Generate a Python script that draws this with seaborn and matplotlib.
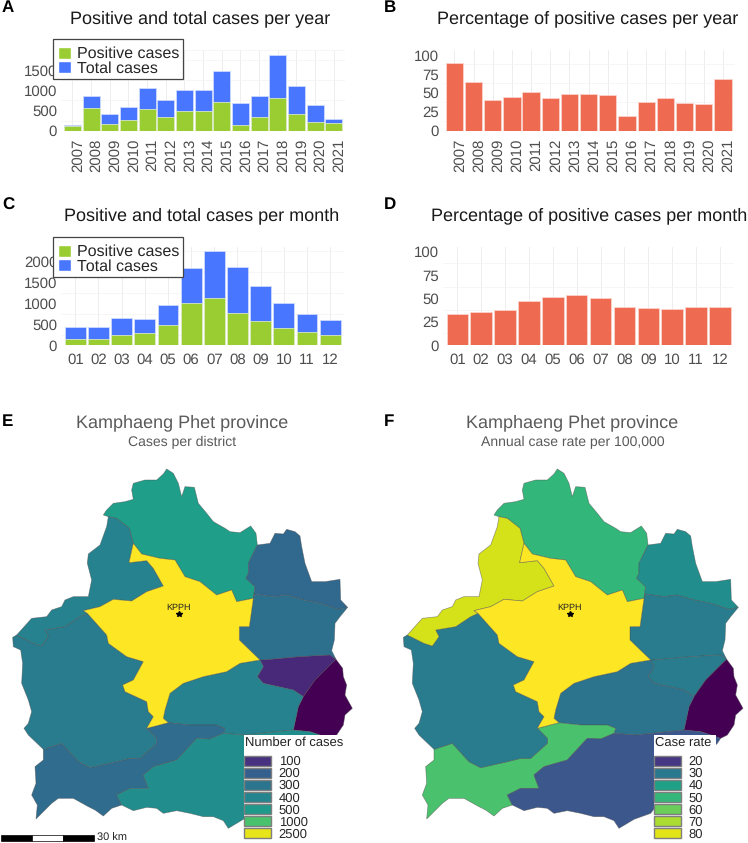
"""Dengue case bars and district maps for Kamphaeng Phet province."""

import matplotlib.pyplot as plt
import seaborn as sns
from matplotlib.patches import Patch, Polygon, Rectangle
from matplotlib.ticker import MultipleLocator
from matplotlib.transforms import ScaledTranslation

WIDTH, HEIGHT = 748, 843

years = ["2007", "2008", "2009", "2010", "2011", "2012", "2013", "2014",
         "2015", "2016", "2017", "2018", "2019", "2020", "2021"]
year_positive = [120, 560, 160, 260, 550, 330, 480, 480, 700, 130, 335, 810, 415, 225, 190]
year_total = [135, 865, 420, 575, 1070, 770, 1010, 1020, 1480, 680, 865, 1880, 1120, 640, 285]
year_percent = [90, 64, 40, 45, 51, 43, 48, 48, 47, 19, 38, 43, 37, 35, 68]

months = ["01", "02", "03", "04", "05", "06", "07", "08", "09", "10", "11", "12"]
month_positive = [145, 150, 245, 285, 490, 1000, 1130, 770, 570, 410, 315, 240]
month_total = [425, 430, 645, 615, 965, 1850, 2240, 1870, 1410, 1010, 750, 590]
month_percent = [33, 35, 38, 47, 51, 54, 50, 41, 40, 39, 41, 41]

# district borders in map units, shared so neighbouring polygons line up
yellow_north = [(400, 430), (425, 462), (480, 475), (525, 480), (555, 530), (600, 545),
                (650, 585), (695, 570), (710, 605), (760, 595)]
yellow_east = [(760, 595), (748, 680), (718, 680), (718, 720), (780, 780)]
yellow_se = [(780, 780), (720, 790), (680, 815), (610, 830), (550, 850), (510, 880),
             (495, 930), (490, 955), (505, 968)]
yellow_low = [(505, 968), (440, 985)]
yellow_sw = [(440, 985), (460, 950), (445, 935), (440, 905), (375, 875), (368, 855),
             (400, 840), (430, 785), (380, 770), (325, 730), (320, 705), (262, 640)]
yellow_nw = [(262, 640), (250, 632), (300, 620), (340, 598), (395, 603), (440, 575),
             (490, 558), (460, 505), (440, 482), (387, 488), (400, 430)]
north_nw = [(400, 430), (388, 385), (350, 355), (325, 350)]
north_outer = [(325, 350), (310, 345), (320, 330), (340, 310), (375, 305), (400, 298), (395, 270),
               (400, 250), (435, 240), (470, 240), (490, 222), (500, 207), (520, 220), (535, 250),
               (545, 290), (555, 260), (583, 262), (590, 290), (595, 310), (620, 340), (640, 365),
               (675, 385), (690, 395), (720, 398), (752, 378), (768, 400), (772, 435)]
north_east = [(772, 435), (745, 490), (745, 520), (738, 535), (765, 560), (760, 595)]
east_outer = [(772, 435), (810, 430), (825, 400), (850, 402), (860, 388), (885, 395), (900, 408),
              (905, 440), (915, 490), (935, 545), (975, 545), (1020, 538), (1022, 600), (1043, 622)]
east_border = [(760, 595), (765, 582), (820, 590), (860, 585), (910, 600), (960, 610),
               (1015, 628), (1043, 622)]
mid_outer = [(1043, 622), (1020, 650), (1005, 670), (1003, 720), (995, 752), (1008, 778)]
mid_purple = [(780, 780), (790, 780), (900, 770), (990, 765), (1008, 778)]
purple_dark = [(1008, 778), (995, 790), (945, 840), (910, 890)]
purple_central = [(780, 780), (790, 800), (772, 830), (790, 850), (880, 870), (910, 890)]
dark_outer = [(1008, 778), (1028, 805), (1030, 830), (1040, 855), (1035, 885), (1057, 925),
              (1035, 945), (1030, 975), (1010, 1005), (990, 1015)]
dark_south = [(990, 1015), (930, 995), (880, 990)]
dark_central = [(880, 990), (895, 920), (910, 890)]
central_low = [(505, 968), (570, 975), (650, 975), (675, 985), (670, 1000)]
central_south = [(670, 1000), (735, 1005), (880, 990)]
low_south = [(670, 1000), (630, 1017), (590, 1015), (530, 1080), (460, 1100), (430, 1125),
             (445, 1165), (390, 1165), (350, 1185), (365, 1215)]
low_outer = [(365, 1215), (335, 1225), (310, 1248), (285, 1230), (265, 1220), (220, 1195),
             (175, 1195), (155, 1210), (130, 1235), (108, 1257), (112, 1215), (95, 1185),
             (108, 1150), (105, 1100), (130, 1080), (130, 1048)]
low_sw = [(130, 1048), (185, 1030), (235, 1085), (270, 1103), (350, 1085), (390, 1075),
          (420, 1075), (470, 1030), (470, 1015), (440, 985)]
south_outer = [(365, 1215), (400, 1232), (440, 1222), (470, 1225), (490, 1240), (530, 1232),
               (570, 1240), (610, 1250), (640, 1250), (670, 1262), (685, 1285), (710, 1270),
               (730, 1258), (780, 1240), (850, 1150), (930, 1080), (980, 1030), (990, 1015)]
nw_sw = [(262, 640), (240, 650), (195, 680), (135, 690), (145, 710), (125, 738), (100, 730),
         (50, 705)]
nw_outer = [(325, 350), (320, 380), (300, 435), (265, 462), (262, 490), (275, 540), (265, 590),
            (220, 590), (195, 600), (185, 620), (155, 630), (140, 650), (95, 655), (50, 705)]
sw_outer = [(50, 705), (38, 712), (40, 740), (62, 750), (68, 790), (65, 850), (85, 900), (95, 935),
            (85, 970), (72, 985), (85, 1005), (130, 1048)]

districts = {
    "north": north_outer + north_east + yellow_north[::-1] + north_nw,
    "east": east_outer + east_border[::-1] + north_east[::-1],
    "mid": east_border + mid_outer + mid_purple[::-1] + yellow_east[::-1],
    "purple": mid_purple + purple_dark + purple_central[::-1],
    "dark": purple_dark[::-1] + dark_outer + dark_south + dark_central,
    "central": yellow_se + central_low + central_south + dark_central + purple_central[::-1],
    "low": yellow_low[::-1] + central_low + low_south + low_outer + low_sw,
    "south": low_south + south_outer + dark_south + central_south[::-1],
    "southwest": yellow_sw + nw_sw + sw_outer + low_sw,
    "northwest": yellow_nw + north_nw + nw_outer + nw_sw[::-1],
    "centre": yellow_north + yellow_east + yellow_se + yellow_low + yellow_sw + yellow_nw,
}

cases_colors = {"north": "#1F9E89", "east": "#31688E", "mid": "#2D708E", "purple": "#482878",
                "dark": "#440154", "central": "#26828E", "low": "#2F6C8E", "south": "#218E8D",
                "southwest": "#287C8E", "northwest": "#26828E", "centre": "#FDE725"}
rate_colors = {"north": "#32B67A", "east": "#218E8D", "mid": "#287C8E", "purple": "#287C8E",
               "dark": "#440154", "central": "#2C738E", "low": "#4AC16D", "south": "#3B578B",
               "southwest": "#287C8E", "northwest": "#D5E21A", "centre": "#FDE725"}

cases_breaks = ["100", "200", "300", "400", "500", "1000", "2500"]
cases_legend_colors = ["#46327E", "#35608D", "#2B758E", "#25858E", "#1F9A8A", "#4AC16D", "#E7E419"]
rate_breaks = ["20", "30", "40", "50", "60", "70", "80"]
rate_legend_colors = ["#453781", "#2A788E", "#1FA187", "#35B779", "#6CCD5A", "#ABDC32", "#E2E418"]

GREEN = "#9ACD32"
BLUE = "#4876FF"
CORAL = "#EE6A50"
TICK_GREY = "#4D4D4D"

sns.set_theme(style="whitegrid", rc={"grid.color": "#EDEDED", "grid.linewidth": 0.7})
plt.rcParams["font.family"] = ["Liberation Sans", "DejaVu Sans"]
plt.rcParams["text.hinting"] = "no_hinting"
plt.rcParams["text.hinting_factor"] = 1

fig = plt.figure(figsize=(WIDTH / 100, HEIGHT / 100), dpi=100, facecolor="white")


def px_axes(left, top, right, bottom):
    return fig.add_axes([left / WIDTH, 1 - bottom / HEIGHT,
                         (right - left) / WIDTH, (bottom - top) / HEIGHT])


def px_text(x, y, text, **kwargs):
    return fig.text(x / WIDTH, 1 - y / HEIGHT, text, va="center", **kwargs)


def px_box(left, top, right, bottom, **kwargs):
    box = Rectangle((left / WIDTH, 1 - bottom / HEIGHT), (right - left) / WIDTH, (bottom - top) / HEIGHT,
                    transform=fig.transFigure, zorder=9, **kwargs)
    fig.add_artist(box)


def style_bars(ax, ymax, yticks, minor, rotate):
    ax.set_ylim(0, ymax)
    ax.set_yticks(yticks)
    ax.yaxis.set_minor_locator(MultipleLocator(minor))
    ax.grid(which="major", axis="both")
    ax.grid(which="minor", axis="y", color="#F3F3F3", linewidth=0.5)
    ax.set_axisbelow(True)
    ax.set_xlabel("")
    ax.set_ylabel("")
    sns.despine(ax=ax, left=True, bottom=True)
    ax.tick_params(which="both", length=0, colors=TICK_GREY, labelsize=10.8)
    ax.tick_params(axis="y", pad=3)
    ax.tick_params(axis="x", pad=6)
    if rotate:
        shift = ScaledTranslation(5.5 / 100, 0, fig.dpi_scale_trans)
        for label in ax.get_xticklabels():
            label.set_rotation(90)
            label.set_transform(label.get_transform() + shift)


def stacked_panel(box, labels, positive, total, ymax, yticks, legend_top, rotate):
    ax = px_axes(*box)
    sns.barplot(x=labels, y=total, color=BLUE, saturation=1, width=0.9,
                edgecolor="#D5DEFF", linewidth=0.5, ax=ax)
    sns.barplot(x=labels, y=positive, color=GREEN, saturation=1, width=0.9,
                edgecolor="#E8F3CC", linewidth=0.5, ax=ax)
    ax.set_xlim(-0.6, len(labels) - 0.4)
    style_bars(ax, ymax, yticks, 250, rotate)
    px_box(53, legend_top, 183, legend_top + 40, facecolor="white", edgecolor="#444444", linewidth=0.9)
    handles = [Patch(facecolor=GREEN, label="Positive cases"),
               Patch(facecolor=BLUE, label="Total cases")]
    legend = fig.legend(handles=handles, loc="upper left", fontsize=11.6, frameon=False,
                        bbox_to_anchor=(58 / WIDTH, 1 - (legend_top + 7.5) / HEIGHT),
                        labelspacing=-0.06, handlelength=0.81, handleheight=0.81,
                        handletextpad=0.37, borderpad=0, borderaxespad=0)
    legend.set_zorder(10)
    return ax


def percent_panel(box, labels, values, ymax, rotate):
    ax = px_axes(*box)
    sns.barplot(x=labels, y=values, color=CORAL, saturation=1, width=0.9,
                edgecolor="#FBD9D2", linewidth=0.5, ax=ax)
    ax.set_xlim(-0.6, len(labels) - 0.4)
    style_bars(ax, ymax, [0, 25, 50, 75, 100], 12.5, rotate)
    return ax


def map_panel(left, colors, title_x, subtitle, legend_x, legend_right, legend_title, breaks, legend_colors):
    ax = px_axes(left, 400, WIDTH if left > 0 else 374, HEIGHT)
    ax.set_xlim(0, (WIDTH - left) * 3 if left > 0 else 1122)
    ax.set_ylim(1329, 0)
    ax.axis("off")
    for name, points in districts.items():
        ax.add_patch(Polygon(points, closed=True, facecolor=colors[name],
                             edgecolor=(0.3, 0.3, 0.3, 0.55), linewidth=0.5))
    ax.text(537, 623, "KPPH", fontsize=6.5, ha="center", va="center", color="#222222")
    ax.plot([537], [643], marker="*", markersize=4, color="black", linestyle="none")
    px_text(title_x, 423, "Kamphaeng Phet province", fontsize=13, color="#5A5A5A", ha="center")
    px_text(title_x, 442, subtitle, fontsize=10, color="#5A5A5A", ha="center")
    px_box(legend_x, 735, legend_right, HEIGHT, facecolor="white", edgecolor="none")
    handles = [Patch(facecolor=c, edgecolor="#7F7F7F", linewidth=1, label=b)
               for b, c in zip(breaks, legend_colors)]
    legend = fig.legend(handles=handles, loc="upper left", fontsize=9.2, frameon=False,
                        bbox_to_anchor=(legend_x / WIDTH, 1 - 755.5 / HEIGHT),
                        labelspacing=-0.02, handlelength=2.1, handleheight=0.88,
                        handletextpad=0.62, borderpad=0, borderaxespad=0)
    legend.set_zorder(10)
    key_title = px_text(legend_x + 1, 743, legend_title, fontsize=9.2, color="#222222", ha="left")
    key_title.set_zorder(10)
    return ax


stacked_panel((61.3, 50, 345, 130.7), years, year_positive, year_total, 2000,
              [0, 500, 1000, 1500], 39, True)
percent_panel((442.8, 50, 734.5, 130.7), years, year_percent, 106.6, True)
stacked_panel((61.4, 247, 344, 345), months, month_positive, month_total, 2344,
              [0, 500, 1000, 1500, 2000], 237, False)
percent_panel((443, 247, 734.3, 345), months, month_percent, 105, False)

px_text(200, 19, "Positive and total cases per year", fontsize=13, color="#1A1A1A", ha="center")
px_text(588, 19, "Percentage of positive cases per year", fontsize=13, color="#1A1A1A", ha="center")
px_text(201.7, 215.7, "Positive and total cases per month", fontsize=13, color="#1A1A1A", ha="center")
px_text(589, 215.7, "Percentage of positive cases per month", fontsize=13, color="#1A1A1A", ha="center")

map_panel(0, cases_colors, 182, "Cases per district", 244, 346, "Number of cases",
          cases_breaks, cases_legend_colors)
map_panel(390.67, rate_colors, 572.5, "Annual case rate per 100,000", 654, 716, "Case rate",
          rate_breaks, rate_legend_colors)

# scale bar under the left map
bar_ax = px_axes(0, 830, 140, 843)
bar_ax.set_xlim(0, 140)
bar_ax.set_ylim(13, 0)
bar_ax.axis("off")
for start, shade in zip([1, 32, 63], ["black", "white", "black"]):
    bar_ax.add_patch(Rectangle((start, 5), 31, 6, facecolor=shade, edgecolor="black", linewidth=0.5))
bar_ax.text(97, 8, "30 km", fontsize=8, va="center", color="#222222")

for x, y, letter in [(2, 8, "A"), (384, 8, "B"), (2, 205, "C"), (384, 205, "D"), (2, 422, "E"), (384, 422, "F")]:
    px_text(x, y, letter, fontsize=12.5, fontweight="bold", color="black", ha="left")

fig.savefig("out.png", dpi=100)
